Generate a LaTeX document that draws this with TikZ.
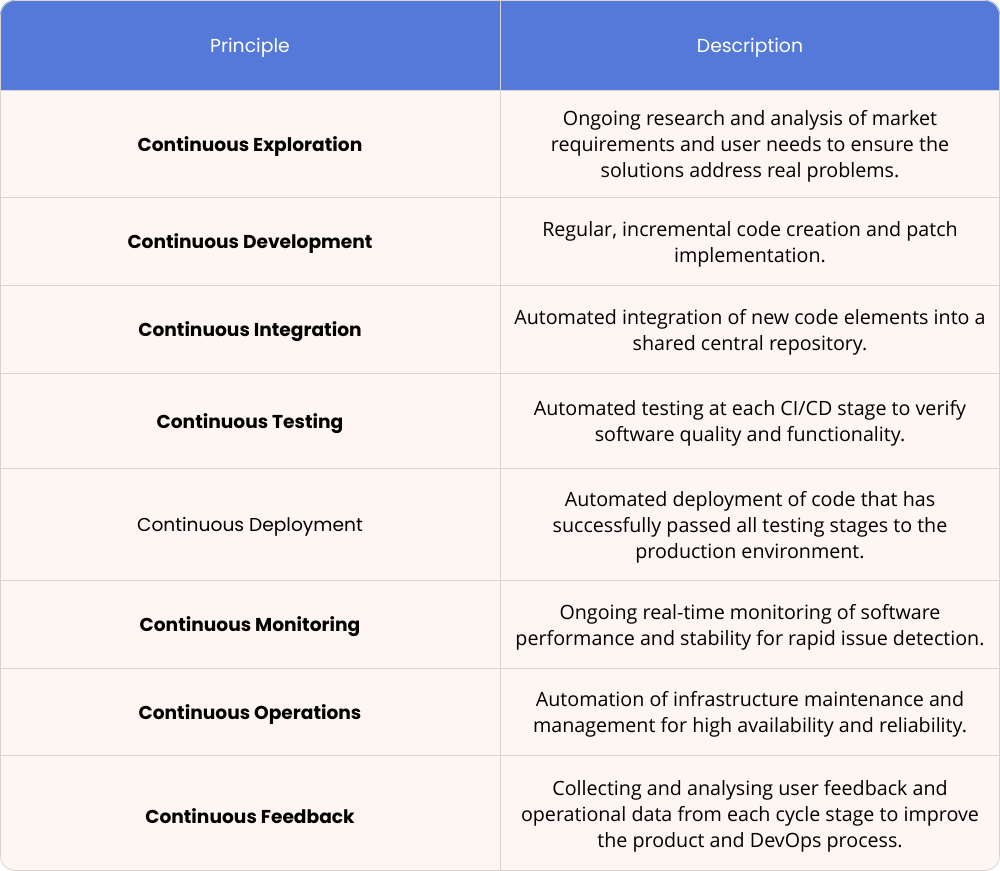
\documentclass[tikz,border=0pt]{standalone}
\usepackage{fontspec}
\setmainfont{Poppins}
\newfontfamily\descfont{Open Sans}
\definecolor{headblue}{HTML}{5479D9}
\definecolor{rowbg}{HTML}{FDF6F3}
\definecolor{gridgray}{HTML}{D6D3D1}
\tikzset{
  every node/.style={yshift=-0.06cm},
  headtext/.style={text=white, font=\fontsize{10.7}{14.7}\selectfont},
  princtext/.style={font=\fontsize{10.6}{14.7}\selectfont\bfseries, align=center},
  desctext/.style={font=\descfont\fontsize{11.2}{14.8}\selectfont, align=center}
}
\begin{document}
\begin{tikzpicture}[x=0.02cm,y=-0.02cm]

	\useasboundingbox (0,0) rectangle (1000,871);
	\fill[rowbg, rounded corners=15*0.02cm] (0,0) rectangle (1000,871);
	\begin{scope}
	\clip[rounded corners=15*0.02cm] (0,0) rectangle (1000,871);
	\fill[headblue] (0,0) rectangle (1000,90);
	\end{scope}

	% grid lines
	\foreach \y in {90,197,285,373,468,580,668,755}
		\draw[gridgray] (0,\y) -- (1000,\y);
	\draw[gridgray] (500,0) -- (500,871);
	\draw[gridgray, rounded corners=15*0.02cm] (0.5,0.5) rectangle (999.5,870.5);

	% header
	\node[headtext] (hprinc) at (250,45) {Principle};
	\node[headtext] (hdesc) at (750,45) {Description};

	% rows
	\node[princtext] (p1) at (250,143.5) {Continuous Exploration};
	\node[desctext] (d1) at (750,143.5) {Ongoing research and analysis of market\\requirements and user needs to ensure the\\solutions address real problems.};

	\node[princtext] (p2) at (250,241) {Continuous Development};
	\node[desctext] (d2) at (750,241) {Regular, incremental code creation and patch\\implementation.};

	\node[princtext] (p3) at (250,329) {Continuous Integration};
	\node[desctext] (d3) at (750,329) {Automated integration of new code elements into a\\shared central repository.};

	\node[princtext] (p4) at (250,420.5) {Continuous Testing};
	\node[desctext] (d4) at (750,420.5) {Automated testing at each CI/CD stage to verify\\software quality and functionality.};

	\node[princtext, font=\fontsize{10.6}{14.7}\selectfont] (p5) at (250,524) {Continuous Deployment};
	\node[desctext] (d5) at (750,524) {Automated deployment of code that has\\successfully passed all testing stages to the\\production environment.};

	\node[princtext] (p6) at (250,624) {Continuous Monitoring};
	\node[desctext] (d6) at (750,624) {Ongoing real-time monitoring of software\\performance and stability for rapid issue detection.};

	\node[princtext] (p7) at (250,711.5) {Continuous Operations};
	\node[desctext] (d7) at (750,711.5) {Automation of infrastructure maintenance and\\management for high availability and reliability.};

	\node[princtext] (p8) at (250,813) {Continuous Feedback};
	\node[desctext] (d8) at (750,813) {Collecting and analysing user feedback and\\operational data from each cycle stage to improve\\the product and DevOps process.};
\end{tikzpicture}
\end{document}
